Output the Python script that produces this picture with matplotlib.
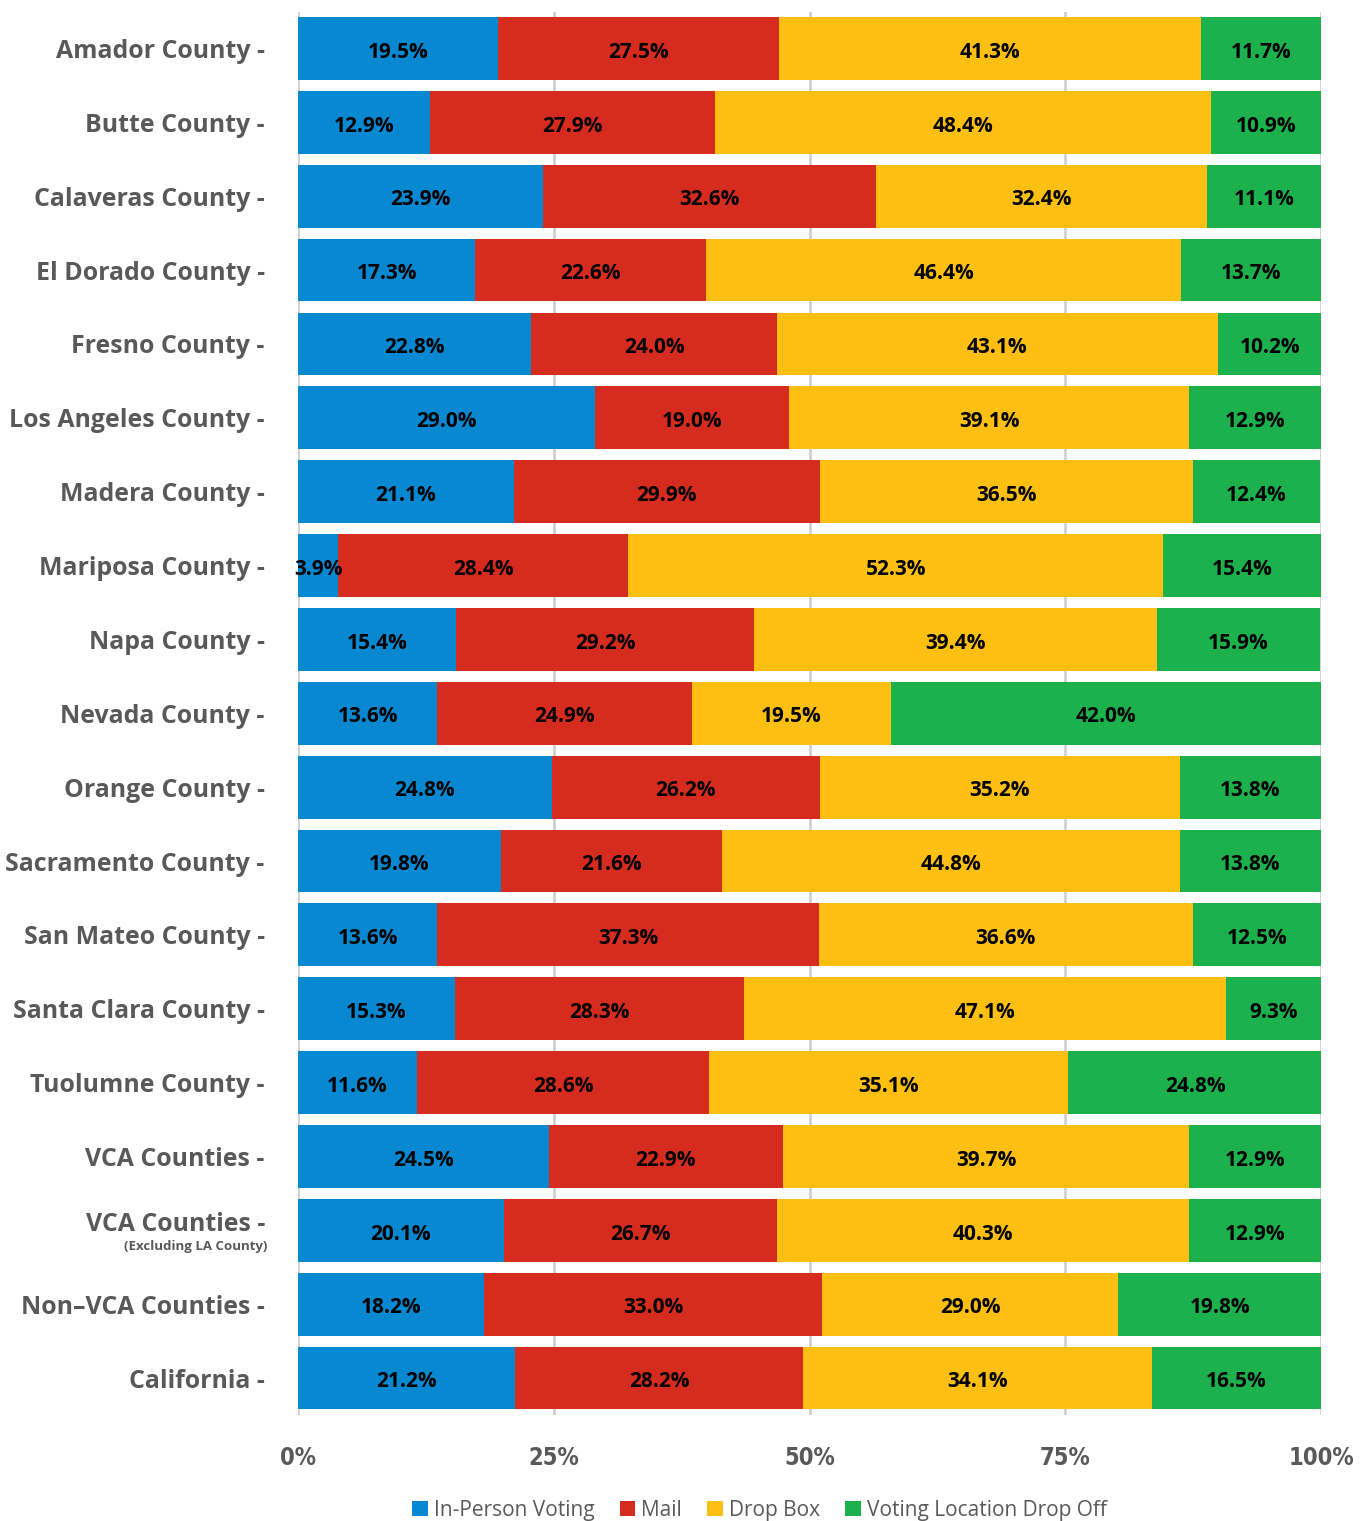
import numpy as np
import matplotlib.pyplot as plt
from matplotlib.patches import Patch
from matplotlib.transforms import blended_transform_factory

# Dados
condados = ["Amador County", "Butte County", "Calaveras County", "El Dorado County",
            "Fresno County", "Los Angeles County", "Madera County", "Mariposa County",
            "Napa County", "Nevada County", "Orange County", "Sacramento County",
            "San Mateo County", "Santa Clara County", "Tuolumne County", "VCA Counties",
            "VCA Counties", "Non\u2013VCA Counties", "California"]
presencial = [19.5, 12.9, 23.9, 17.3, 22.8, 29.0, 21.1, 3.9, 15.4, 13.6, 24.8, 19.8, 13.6, 15.3, 11.6, 24.5, 20.1, 18.2, 21.2]
correio = [27.5, 27.9, 32.6, 22.6, 24.0, 19.0, 29.9, 28.4, 29.2, 24.9, 26.2, 21.6, 37.3, 28.3, 28.6, 22.9, 26.7, 33.0, 28.2]
urna = [41.3, 48.4, 32.4, 46.4, 43.1, 39.1, 36.5, 52.3, 39.4, 19.5, 35.2, 44.8, 36.6, 47.1, 35.1, 39.7, 40.3, 29.0, 34.1]
local = [11.7, 10.9, 11.1, 13.7, 10.2, 12.9, 12.4, 15.4, 15.9, 42.0, 13.8, 13.8, 12.5, 9.3, 24.8, 12.9, 12.9, 19.8, 16.5]
series_nomes = ["In-Person Voting", "Mail", "Drop Box", "Voting Location Drop Off"]
cores = ["#0888D0", "#D62C20", "#FCBF12", "#1CB14C"]
xticks = [0, 25, 50, 75, 100]

plt.rcParams['font.family'] = ['Open Sans', 'DejaVu Sans']
cinza = "#595959"

fig = plt.figure(figsize=(13.61, 15.21), dpi=100)
ax = fig.add_axes([0.219, 0.0697, 0.7516, 0.9227])

y = np.arange(len(condados))
esquerda = np.zeros(len(condados))
for vals, cor in zip([presencial, correio, urna, local], cores):
    vals = np.array(vals)
    ax.barh(y, vals / 100, left=esquerda, height=0.85, color=cor, zorder=2)
    for yi, (l, v) in enumerate(zip(esquerda, vals)):
        ax.text(l + v / 200, yi + 0.05, f"{v:.1f}%", ha="center", va="center",
                fontsize=15, fontweight="bold", color="black", zorder=3)
    esquerda += vals / 100

ax.set_xlim(0, 1)
ax.set_ylim(len(condados) - 0.5, -0.5)
ax.set_xticks([t / 100 for t in xticks])
ax.set_xticklabels([f"{t}%" for t in xticks], family=['DejaVu Sans'], fontstretch="condensed",
                   fontsize=17, fontweight="bold", color=cinza)
rotulos = [c + " -" for c in condados]
rotulos[16] = ""
ax.set_yticks(y)
ax.set_yticklabels(rotulos, fontsize=17.9, fontweight="bold", color=cinza)
ax.tick_params(axis="y", length=0, pad=24)
ax.tick_params(axis="x", length=0, pad=22)
ax.grid(axis="x", color="#D0D0D0", linewidth=2, zorder=0)
for s in ax.spines.values():
    s.set_visible(False)

# rotulo especial com subtitulo
tr = blended_transform_factory(ax.transAxes, ax.transData)
ax.text(-0.0322, 16 - 0.08, "VCA Counties -", transform=tr, ha="right", va="center",
        fontsize=17.9, fontweight="bold", color=cinza)
ax.text(-0.0302, 16 + 0.22, "(Excluding LA County)", transform=tr, ha="right", va="center",
        fontsize=9.5, fontweight="bold", color=cinza)

handles = [Patch(facecolor=c) for c in cores]
fig.legend(handles, series_nomes, loc="lower center", bbox_to_anchor=(0.558, -0.012), ncol=4,
           frameon=False, fontsize=15, handlelength=0.75, handleheight=0.75,
           handletextpad=0.3, columnspacing=1.2, labelcolor=cinza)

fig.savefig("out.png", dpi=100)
